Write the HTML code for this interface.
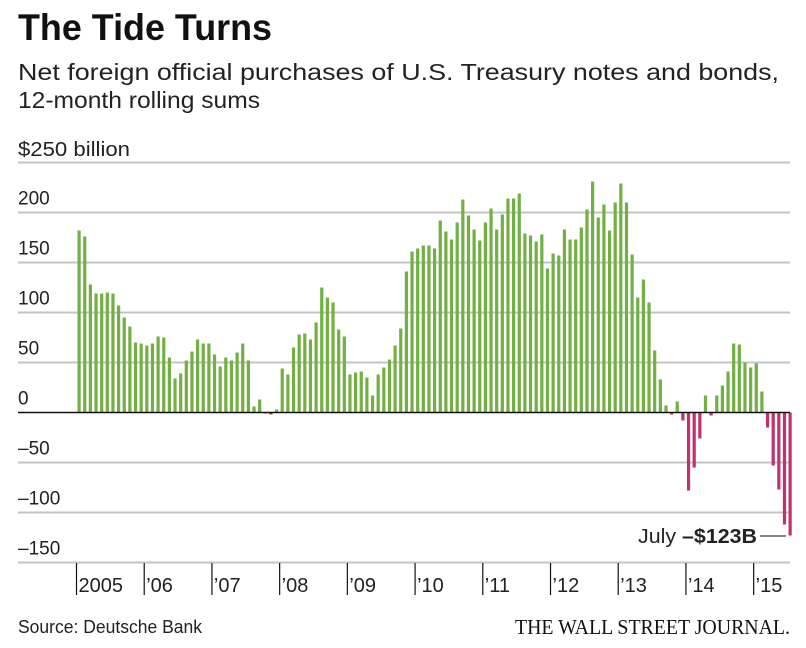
<!DOCTYPE html>
<html><head><meta charset="utf-8"><style>
html,body{margin:0;padding:0;background:#fff;}
svg{display:block;font-family:"Liberation Sans",sans-serif;}
</style></head><body>
<svg id="chart" width="806" height="648" viewBox="0 0 806 648" xmlns="http://www.w3.org/2000/svg">
<text x="18" y="40" font-size="37" font-weight="bold" textLength="254" lengthAdjust="spacingAndGlyphs" fill="#111">The Tide Turns</text>
<text x="18" y="80" font-size="23" textLength="761" lengthAdjust="spacingAndGlyphs" fill="#222">Net foreign official purchases of U.S. Treasury notes and bonds,</text>
<text x="18" y="108" font-size="23" textLength="242" lengthAdjust="spacingAndGlyphs" fill="#222">12-month rolling sums</text>
<text x="18" y="156" font-size="20" textLength="112" lengthAdjust="spacingAndGlyphs" fill="#222">$250 billion</text>
<g id="grid"></g>
<g id="bars"></g>
<g id="xaxis"></g>
<line x1="18" x2="790" y1="412.5" y2="412.5" stroke="#111" stroke-width="1.5"/>
<text x="638" y="543" font-size="20.5" fill="#222" textLength="119" lengthAdjust="spacingAndGlyphs">July <tspan font-weight="bold">–$123B</tspan></text>
<line x1="760" x2="786" y1="536" y2="536" stroke="#111" stroke-width="1"/>
<text x="18" y="633" font-size="18" textLength="184" lengthAdjust="spacingAndGlyphs" fill="#222">Source: Deutsche Bank</text>
<text x="515" y="634" font-size="21" font-family="Liberation Serif, serif" textLength="275" lengthAdjust="spacingAndGlyphs" fill="#111">THE WALL STREET JOURNAL.</text>
</svg>
<script>
const yTicks = [250, 200, 150, 100, 50, 0, -50, -100, -150];
const yTickLabels = ["", "200", "150", "100", "50", "0", "–50", "–100", "–150"];
const yearLabels = ["2005", "’06", "’07", "’08", "’09", "’10", "’11", "’12", "’13", "’14", "’15"];
const startYear = 2005;
const values = [
182,176,128,119,119,120,119,107,95,86,
70,69,67,69,76,75,55,34,39,52,
61,73,69,69,58,46,55,52,60,69,
52,6,13,-1,-2,3,44,38,65,78,
79,73,90,125,115,110,83,76,38,40,
41,35,17,38,45,53,67,84,
141,161,164,167,167,164,192,181,173,190,
213,197,183,172,190,204,183,198,214,214,
219,179,177,171,178,144,159,157,183,173,
173,185,203,231,195,208,182,210,229,210,
158,115,133,110,62,33,7,-2,11,-8,
-78,-55,-26,17,-3,17,27,41,69,68,
50,45,49,21,-15,-53,-77,-112,-123
];
const NS = "http://www.w3.org/2000/svg";
const zeroY = 412.5, pxPer = 1.0;
function y(v){ return zeroY - v * pxPer; }
const x0 = 77.5, step = 5.643;
function x(i){ return x0 + i * step; }
const grid = document.getElementById('grid');
yTicks.forEach((t, k) => {
  if (t !== 0) {
    const l = document.createElementNS(NS, 'line');
    l.setAttribute('x1', 18); l.setAttribute('x2', 790);
    l.setAttribute('y1', y(t)); l.setAttribute('y2', y(t));
    l.setAttribute('stroke', '#c4c4c4'); l.setAttribute('stroke-width', '2');
    
    
    grid.appendChild(l);
  }
  if (yTickLabels[k]) {
    const tx = document.createElementNS(NS, 'text');
    tx.setAttribute('x', 18); tx.setAttribute('y', y(t) - 8);
    tx.setAttribute('font-size', '19'); tx.setAttribute('fill', '#222');
    tx.textContent = yTickLabels[k];
    
    
    grid.appendChild(tx);
  }
});
const bars = document.getElementById('bars');
values.forEach((v, i) => {
  const r = document.createElementNS(NS, 'rect');
  const top = Math.min(y(v), zeroY), h = Math.abs(y(v) - zeroY);
  r.setAttribute('x', x(i)); r.setAttribute('width', 3.2);
  r.setAttribute('y', top); r.setAttribute('height', Math.max(h, 0.8));
  r.setAttribute('fill', v >= 0 ? '#72b043' : '#c2306f');
  
  
  bars.appendChild(r);
});
const xa = document.getElementById('xaxis');
yearLabels.forEach((lab, k) => {
  const tx0 = x0 - 1 + k * 12 * step;
  const l = document.createElementNS(NS, 'line');
  l.setAttribute('x1', tx0); l.setAttribute('x2', tx0);
  l.setAttribute('y1', 563); l.setAttribute('y2', 595);
  l.setAttribute('stroke', '#111'); l.setAttribute('stroke-width', '1.2');
  
  
  xa.appendChild(l);
  const t = document.createElementNS(NS, 'text');
  t.setAttribute('x', tx0 + 2); t.setAttribute('y', 592);
  t.setAttribute('font-size', '20'); t.setAttribute('fill', '#222');
  t.textContent = lab;
  
  
  xa.appendChild(t);
});
</script>
</body></html>
